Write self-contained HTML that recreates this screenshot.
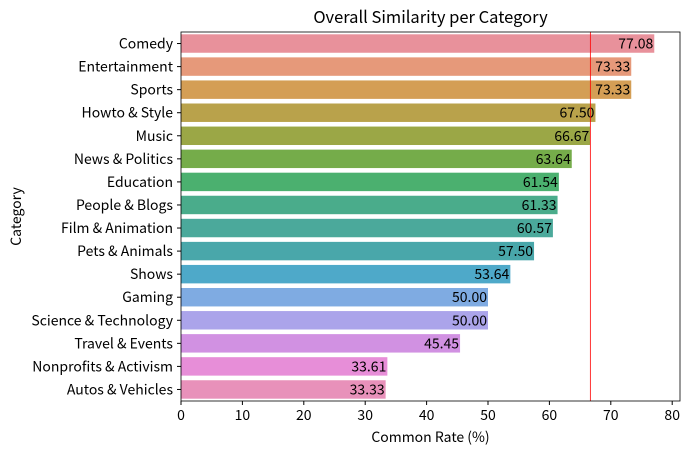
<!DOCTYPE html>
<html><head><meta charset="utf-8"><style>
body{margin:0;background:#fff;}
svg text{font-family:"Noto Sans CJK JP","Liberation Sans",sans-serif;fill:#000;}
</style></head><body>
<svg id="chart" width="689" height="454" xmlns="http://www.w3.org/2000/svg"></svg>
<script>
const categories=["Comedy","Entertainment","Sports","Howto & Style","Music","News & Politics","Education","People & Blogs","Film & Animation","Pets & Animals","Shows","Gaming","Science & Technology","Travel & Events","Nonprofits & Activism","Autos & Vehicles"];
const values=[77.08,73.33,73.33,67.50,66.67,63.64,61.54,61.33,60.57,57.50,53.64,50.00,50.00,45.45,33.61,33.33];
const colors=["#e8919b","#e6997a","#d49e55","#b9a24b","#9ba746","#75ac4a","#4bb06f","#4aac8b","#4ba99b","#49a7aa","#4ea9c9","#7fabe2","#aba4ea","#d191e2","#e78ed8","#e891ba"];
const xTicks=[0,10,20,30,40,50,60,70,80];
const refValue=66.67;
const NS="http://www.w3.org/2000/svg";
const svg=document.getElementById('chart');
const L=181,R=680,T=32,B=401;
const xs=v=>L+v*6.14;
const band=(B-T)/categories.length;
const ys=i=>T+band*i;
function mk(tag,attrs,txt){const e=document.createElementNS(NS,tag);for(const k in attrs)e.setAttribute(k,attrs[k]);if(txt!==undefined)e.textContent=txt;svg.appendChild(e);return e;}
categories.forEach((c,i)=>{
 const y=ys(i)+band*0.1,h=band*0.8;
 const r=mk('rect',{x:L,y:y,width:xs(values[i])-L,height:h,fill:colors[i]});
 
 
 const lb=mk('text',{x:xs(values[i])-1,y:ys(i)+band/2+5,'text-anchor':'end','font-size':14},values[i].toFixed(2));
 
 
 const t=mk('text',{x:L-8,y:ys(i)+band/2+5,'text-anchor':'end','font-size':14},c);
 
 
 mk('line',{x1:L-4,x2:L,y1:ys(i)+band/2,y2:ys(i)+band/2,stroke:'#000'});
});
xTicks.forEach(v=>{
 mk('line',{x1:xs(v),x2:xs(v),y1:B,y2:B+4,stroke:'#000'});
 const t=mk('text',{x:xs(v),y:B+19,'text-anchor':'middle','font-size':14},v);
 
 
});
const rl=mk('line',{x1:xs(refValue),x2:xs(refValue),y1:T,y2:B,stroke:'#f00','stroke-width':0.8});


const fr=mk('rect',{x:L,y:T,width:R-L,height:B-T,fill:'none',stroke:'#000','stroke-width':0.8});


const ti=mk('text',{x:(L+R)/2,y:23,'text-anchor':'middle','font-size':16.5},'Overall Similarity per Category');


const xt=mk('text',{x:(L+R)/2,y:442,'text-anchor':'middle','font-size':14},'Common Rate (%)');


const yt=mk('text',{x:21,y:(T+B)/2,'text-anchor':'middle','font-size':14,transform:'rotate(-90 21 '+((T+B)/2)+')'},'Category');


</script>
</body></html>
